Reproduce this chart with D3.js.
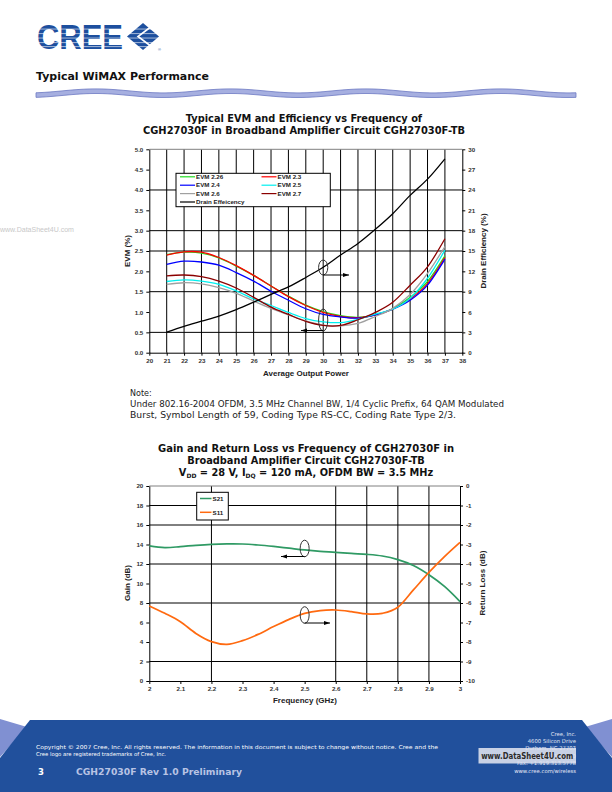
<!DOCTYPE html>
<html><head><meta charset="utf-8">
<script src="https://cdn.jsdelivr.net/npm/d3@7"></script>
<style>body{margin:0;background:#fff}svg{display:block}</style>
</head><body>
<svg id="c" width="612" height="792"></svg>
<script>
// ---------- DATA: top chart ----------
const powers = [21,22,23,24,25,26,27,28,29,30,31,32,33,34,35,36,37];
const evm226 = [2.41,2.47,2.45,2.33,2.13,1.90,1.64,1.39,1.17,1.01,0.91,0.87,0.93,1.08,1.36,1.75,2.38];
const evm23  = [2.40,2.48,2.47,2.34,2.14,1.90,1.64,1.38,1.16,0.99,0.89,0.86,0.93,1.07,1.32,1.70,2.34];
const evm24  = [2.17,2.25,2.23,2.15,1.97,1.76,1.51,1.29,1.08,0.94,0.88,0.85,0.93,1.07,1.29,1.66,2.30];
const evm25  = [1.75,1.79,1.76,1.68,1.52,1.32,1.16,0.99,0.84,0.76,0.74,0.82,0.95,1.07,1.34,1.83,2.52];
const evm26  = [1.68,1.72,1.69,1.60,1.46,1.27,1.09,0.93,0.78,0.68,0.66,0.72,0.89,1.09,1.43,1.95,2.61];
const evm27  = [1.89,1.91,1.87,1.76,1.59,1.36,1.12,0.94,0.77,0.67,0.67,0.81,0.99,1.24,1.66,2.11,2.80];
const drainEff = [3.05,3.9,4.65,5.4,6.35,7.45,8.6,9.7,11.1,12.6,14.4,16.1,18.2,20.5,23.2,25.6,28.6];
const evmTicks = [0,0.5,1,1.5,2,2.5,3,3.5,4,4.5,5];
const effTicks = [0,3,6,9,12,15,18,21,24,27,30];
const powerTicks = [20,21,22,23,24,25,26,27,28,29,30,31,32,33,34,35,36,37,38];
const evmSeriesNames = ["EVM 2.26","EVM 2.3","EVM 2.4","EVM 2.5","EVM 2.6","EVM 2.7"];

// ---------- DATA: bottom chart ----------
const freqs = [2.0,2.05,2.1,2.15,2.2,2.25,2.3,2.35,2.4,2.45,2.5,2.55,2.6,2.65,2.7,2.75,2.8,2.85,2.9,2.95,3.0];
const s21 = [13.85,13.68,13.78,13.92,14.02,14.06,14.05,13.95,13.8,13.62,13.44,13.3,13.2,13.08,12.99,12.82,12.45,11.85,10.9,9.7,8.15];
const s11 = [-6.15,-6.53,-6.96,-7.56,-7.98,-8.12,-7.93,-7.61,-7.21,-6.84,-6.53,-6.39,-6.36,-6.44,-6.56,-6.53,-6.22,-5.33,-4.43,-3.62,-2.89];
const gainTicks = [0,2,4,6,8,10,12,14,16,18,20];
const rlTicks = [0,-1,-2,-3,-4,-5,-6,-7,-8,-9,-10];
const freqTicks = [2,2.1,2.2,2.3,2.4,2.5,2.6,2.7,2.8,2.9,3];

const svg = d3.select("#c");
const SANS = "'Liberation Sans', Arial, sans-serif";
const VERD = "'DejaVu Sans', Verdana, sans-serif";

// ---------- HEADER ----------
const logo = svg.append("g");
logo.append("text").attr("x",37).attr("y",49).attr("font-family",SANS).attr("font-weight","bold")
  .attr("font-size",35).attr("fill","#1d4f9e").attr("textLength",86).attr("lengthAdjust","spacingAndGlyphs").text("CREE");
logo.append("polygon").attr("points","127,36.5 143,23 159,36.5 143,50").attr("fill","#1d4f9e");
logo.append("polyline").attr("points","152,26 138,36.5 152,47").attr("fill","none").attr("stroke","#fff").attr("stroke-width",1.6);
[28.5,33,37.5,42,46].forEach(y=>{
  logo.append("rect").attr("x",37).attr("y",y).attr("width",122).attr("height",1.1).attr("fill","#fff").attr("opacity",0.55);
});
logo.append("text").attr("x",158).attr("y",51).attr("font-size",4).attr("fill","#1d4f9e").attr("font-family",SANS).text("®");

svg.append("text").attr("x",36).attr("y",80).attr("font-family",VERD).attr("font-weight","bold")
  .attr("font-size",10.5).attr("fill","#111").attr("textLength",173).attr("lengthAdjust","spacingAndGlyphs").text("Typical WiMAX Performance");

// wavy band (decorative)
(function(){
  const xs = d3.range(36,577,2);
  const f = x => 93.2 + 2.0*Math.sin((x-62)/135*2*Math.PI + Math.PI);
  const top = xs.map(x=>[x,f(x)-2.3]);
  const bot = xs.slice().reverse().map(x=>[x,f(x)+2.3]);
  svg.append("path").attr("d", "M"+top.map(p=>p.join(",")).join("L")+"L"+bot.map(p=>p.join(",")).join("L")+"Z")
    .attr("fill","#a6afe0").attr("stroke","#6c79c3").attr("stroke-width",0.8);
})();

// left watermark
svg.append("text").attr("x",0).attr("y",232).attr("font-family",SANS).attr("font-size",7).attr("fill","#c8c8c8").text("www.DataSheet4U.com");

// ---------- TOP CHART ----------
svg.append("text").attr("x",304).attr("y",122).attr("text-anchor","middle").attr("font-family",VERD).attr("font-weight","bold")
  .attr("font-size",9.8).attr("fill","#111").text("Typical EVM and Efficiency vs Frequency of");
svg.append("text").attr("x",304).attr("y",134).attr("text-anchor","middle").attr("font-family",VERD).attr("font-weight","bold")
  .attr("font-size",9.8).attr("fill","#111").attr("textLength",322).attr("lengthAdjust","spacingAndGlyphs").text("CGH27030F in Broadband Amplifier Circuit CGH27030F-TB");

const xT = d3.scaleLinear().domain([20,38]).range([149.3,462.3]);
const yE = d3.scaleLinear().domain([0,5]).range([352.7,149.3]);
const yD = d3.scaleLinear().domain([0,30]).range([352.7,149.3]);

const gT = svg.append("g");
[0.5,1.5,2.5,3,4].forEach(v=>{
  gT.append("line").attr("x1",xT(20)).attr("x2",xT(38)).attr("y1",yE(v)).attr("y2",yE(v)).attr("stroke","#000").attr("stroke-width",1);
});
powers.forEach(p=>{
  gT.append("line").attr("x1",xT(p)).attr("x2",xT(p)).attr("y1",yE(0)).attr("y2",yE(5)).attr("stroke","#000").attr("stroke-width",1);
});
gT.append("line").attr("x1",xT(20)).attr("x2",xT(38)).attr("y1",yE(5)).attr("y2",yE(5)).attr("stroke","#808080");

function styleAxis(g){
  g.selectAll("text").attr("font-family",SANS).attr("font-weight","bold").attr("font-size",6.2).attr("fill","#333");
  g.selectAll("line").attr("stroke","#000");
  g.select(".domain").attr("stroke","#000");
}
const plain = d => String(+(+d).toFixed(2));
gT.append("g").attr("transform",`translate(${xT(20)},0)`)
  .call(d3.axisLeft(yE).tickValues(evmTicks).tickFormat(d=>(+d).toFixed(1)).tickSize(3).tickSizeOuter(0)).call(styleAxis);
gT.append("g").attr("transform",`translate(${xT(38)},0)`)
  .call(d3.axisRight(yD).tickValues(effTicks).tickFormat(plain).tickSize(3).tickSizeOuter(0)).call(styleAxis);
gT.append("g").attr("transform",`translate(0,${yE(0)})`)
  .call(d3.axisBottom(xT).tickValues(powerTicks).tickFormat(plain).tickSize(3).tickSizeOuter(0)).call(styleAxis);

const evmData = [evm226,evm23,evm24,evm25,evm26,evm27];
const evmColors = ["#22dd22","#ff0000","#0000ff","#00f0f0","#a0a0a0","#8b0000"];
const lineE = d3.line().x((d,i)=>xT(powers[i])).y(d=>yE(d)).curve(d3.curveCardinal.tension(0));
const lineD = d3.line().x((d,i)=>xT(powers[i])).y(d=>yD(d)).curve(d3.curveCardinal.tension(0));
evmData.forEach((arr,k)=>{
  gT.append("path").attr("d",lineE(arr)).attr("fill","none").attr("stroke",evmColors[k]).attr("stroke-width",1.3);
});
gT.append("path").attr("d",lineD(drainEff)).attr("fill","none").attr("stroke","#000").attr("stroke-width",1.3);

function arrow(g,x1,y1,x2,y2){
  g.append("line").attr("x1",x1).attr("y1",y1).attr("x2",x2).attr("y2",y2).attr("stroke","#000").attr("stroke-width",1);
  const dir = Math.sign(x2-x1);
  g.append("polygon").attr("points",`${x2},${y2} ${x2-dir*6},${y2-2} ${x2-dir*6},${y2+2}`).attr("fill","#000");
}
gT.append("ellipse").attr("cx",xT(30)).attr("cy",267.5).attr("rx",4.6).attr("ry",7.5).attr("fill","none").attr("stroke","#333").attr("stroke-width",1);
arrow(gT,xT(30),275,349,275);
gT.append("ellipse").attr("cx",xT(30)).attr("cy",320).attr("rx",4.6).attr("ry",11).attr("fill","none").attr("stroke","#333").attr("stroke-width",1);
arrow(gT,xT(30),330.5,301,330.5);

const lg = gT.append("g");
lg.append("rect").attr("x",176).attr("y",173.3).attr("width",154.3).attr("height",33.4).attr("fill","#fff").attr("stroke","#000").attr("stroke-width",1);
const legItems = evmSeriesNames.map((n,i)=>({name:n,color:evmColors[i]})).concat([{name:"Drain Effeicency",color:"#000"}]);
legItems.forEach((it,i)=>{
  const col = (i<6)? i%2 : 0;
  const row = (i<6)? Math.floor(i/2) : 3;
  const lx = col===0?180:261.5;
  const ly = 176.8 + row*8.4;
  lg.append("line").attr("x1",lx).attr("x2",lx+15).attr("y1",ly).attr("y2",ly).attr("stroke",it.color).attr("stroke-width",1.2);
  lg.append("text").attr("x",lx+16).attr("y",ly+2.2).attr("font-family",SANS).attr("font-weight","bold").attr("font-size",6.2).attr("fill","#222").text(it.name);
});

svg.append("text").attr("transform","translate(129.5,251) rotate(-90)").attr("text-anchor","middle").attr("font-family",SANS)
  .attr("font-weight","bold").attr("font-size",8).attr("fill","#222").text("EVM (%)");
svg.append("text").attr("transform","translate(486,251) rotate(-90)").attr("text-anchor","middle").attr("font-family",SANS)
  .attr("font-weight","bold").attr("font-size",8).attr("fill","#222").text("Drain Efficiency (%)");
svg.append("text").attr("x",306).attr("y",376).attr("text-anchor","middle").attr("font-family",SANS)
  .attr("font-weight","bold").attr("font-size",8).attr("fill","#222").text("Average Output Power");

// ---------- NOTE ----------
const noteLines = ["Note:",
  "Under 802.16-2004 OFDM, 3.5 MHz Channel BW, 1/4 Cyclic Prefix, 64 QAM Modulated",
  "Burst, Symbol Length of 59, Coding Type RS-CC, Coding Rate Type 2/3."];
const noteLens = [null,374,326];
noteLines.forEach((t,i)=>{
  const tx = svg.append("text").attr("x",130).attr("y",396+i*11).attr("font-family",VERD).attr("font-size",8).attr("fill","#222").text(t);
  if(noteLens[i]) tx.attr("textLength",noteLens[i]).attr("lengthAdjust","spacingAndGlyphs");
});

// ---------- BOTTOM CHART ----------
svg.append("text").attr("x",306).attr("y",452).attr("text-anchor","middle").attr("font-family",VERD).attr("font-weight","bold")
  .attr("font-size",9.8).attr("fill","#111").attr("textLength",296).attr("lengthAdjust","spacingAndGlyphs").text("Gain and Return Loss vs Frequency of CGH27030F in");
svg.append("text").attr("x",306).attr("y",464).attr("text-anchor","middle").attr("font-family",VERD).attr("font-weight","bold")
  .attr("font-size",9.8).attr("fill","#111").text("Broadband Amplifier Circuit CGH27030F-TB");
const t3 = svg.append("text").attr("x",306).attr("y",476).attr("text-anchor","middle").attr("font-family",VERD).attr("font-weight","bold")
  .attr("font-size",9.8).attr("fill","#111");
t3.append("tspan").text("V");
t3.append("tspan").attr("font-size",6).attr("dy",2).text("DD");
t3.append("tspan").attr("dy",-2).text(" = 28 V, I");
t3.append("tspan").attr("font-size",6).attr("dy",2).text("DQ");
t3.append("tspan").attr("dy",-2).text(" = 120 mA, OFDM BW = 3.5 MHz");

const xB = d3.scaleLinear().domain([2,3]).range([149.3,460]);
const yG = d3.scaleLinear().domain([0,20]).range([681,486]);
const yR = d3.scaleLinear().domain([-10,0]).range([681,486]);
const gB = svg.append("g");
[2,8,12,16,18].forEach(v=>{
  gB.append("line").attr("x1",xB(2)).attr("x2",xB(3)).attr("y1",yG(v)).attr("y2",yG(v)).attr("stroke","#000");
});
[2.2,2.6,2.7,2.8,2.9].forEach(f=>{
  gB.append("line").attr("x1",xB(f)).attr("x2",xB(f)).attr("y1",yG(0)).attr("y2",yG(20)).attr("stroke","#000");
});
gB.append("line").attr("x1",xB(2)).attr("x2",xB(3)).attr("y1",yG(20)).attr("y2",yG(20)).attr("stroke","#808080");
gB.append("g").attr("transform",`translate(${xB(2)},0)`)
  .call(d3.axisLeft(yG).tickValues(gainTicks).tickFormat(plain).tickSize(3).tickSizeOuter(0)).call(styleAxis);
gB.append("g").attr("transform",`translate(${xB(3)},0)`)
  .call(d3.axisRight(yR).tickValues(rlTicks).tickFormat(plain).tickSize(3).tickSizeOuter(0)).call(styleAxis);
gB.append("g").attr("transform",`translate(0,${yG(0)})`)
  .call(d3.axisBottom(xB).tickValues(freqTicks).tickFormat(plain).tickSize(3).tickSizeOuter(0)).call(styleAxis);

const lineG = d3.line().x((d,i)=>xB(freqs[i])).y(d=>yG(d)).curve(d3.curveCardinal.tension(0));
const lineR = d3.line().x((d,i)=>xB(freqs[i])).y(d=>yR(d)).curve(d3.curveCardinal.tension(0));
gB.append("path").attr("d",lineG(s21)).attr("fill","none").attr("stroke","#2f9a64").attr("stroke-width",1.7);
gB.append("path").attr("d",lineR(s11)).attr("fill","none").attr("stroke","#ff6a10").attr("stroke-width",1.7);

gB.append("ellipse").attr("cx",xB(2.5)).attr("cy",548.5).attr("rx",4.5).attr("ry",8.3).attr("fill","none").attr("stroke","#333");
arrow(gB,xB(2.5),556.5,281,556.5);
gB.append("ellipse").attr("cx",xB(2.5)).attr("cy",615).attr("rx",4.5).attr("ry",8.3).attr("fill","none").attr("stroke","#333");
arrow(gB,xB(2.5),623,330,623);

const lb = gB.append("g");
lb.append("rect").attr("x",196.7).attr("y",492.3).attr("width",31.6).attr("height",27.7).attr("fill","#fff").attr("stroke","#000");
[{n:"S21",c:"#2f9a64",y:498.5},{n:"S11",c:"#ff6a10",y:512.3}].forEach(it=>{
  lb.append("line").attr("x1",200).attr("x2",211.5).attr("y1",it.y).attr("y2",it.y).attr("stroke",it.c).attr("stroke-width",1.5);
  lb.append("text").attr("x",212.5).attr("y",it.y+2.2).attr("font-family",SANS).attr("font-weight","bold").attr("font-size",6.2).attr("fill","#222").text(it.n);
});

svg.append("text").attr("transform","translate(130,583) rotate(-90)").attr("text-anchor","middle").attr("font-family",SANS)
  .attr("font-weight","bold").attr("font-size",8).attr("fill","#222").text("Gain (dB)");
svg.append("text").attr("transform","translate(485,583) rotate(-90)").attr("text-anchor","middle").attr("font-family",SANS)
  .attr("font-weight","bold").attr("font-size",8).attr("fill","#222").text("Return Loss (dB)");
svg.append("text").attr("x",305).attr("y",703).attr("text-anchor","middle").attr("font-family",SANS)
  .attr("font-weight","bold").attr("font-size",8).attr("fill","#222").text("Frequency (GHz)");

// ---------- FOOTER ----------
svg.append("polygon").attr("points","0,719 27,727 0,757").attr("fill","#8090d2");
svg.append("polygon").attr("points","612,719 585,727 612,757").attr("fill","#8090d2");
svg.append("polygon").attr("points","0,758 30,720 582,720 612,758 612,792 0,792").attr("fill","#21509c");
svg.append("text").attr("x",36).attr("y",748.5).attr("font-family",VERD).attr("font-size",5.3).attr("fill","#fff")
  .attr("textLength",402).attr("lengthAdjust","spacingAndGlyphs")
  .text("Copyright © 2007 Cree, Inc. All rights reserved. The information in this document is subject to change without notice. Cree and the");
svg.append("text").attr("x",36).attr("y",756).attr("font-family",VERD).attr("font-size",5.3).attr("fill","#fff")
  .text("Cree logo are registered trademarks of Cree, Inc.");
svg.append("text").attr("x",38).attr("y",775).attr("font-family",VERD).attr("font-weight","bold").attr("font-size",8.5).attr("fill","#fff").text("3");
svg.append("text").attr("x",76).attr("y",775).attr("font-family",VERD).attr("font-weight","bold").attr("font-size",8.5).attr("fill","#b8c3e4")
  .attr("textLength",166).attr("lengthAdjust","spacingAndGlyphs").text("CGH27030F Rev 1.0 Preliminary");
const addr = ["Cree, Inc.","4600 Silicon Drive","Durham, NC 27703","USA Tel: +1.919.313.5300","Fax: +1.919.313.5778","www.cree.com/wireless"];
addr.forEach((t,i)=>{
  svg.append("text").attr("x",576).attr("y",735.5+i*7.4).attr("text-anchor","end").attr("font-family",VERD).attr("font-size",5.3).attr("fill","#e0e6f5").text(t);
});
svg.append("rect").attr("x",478.5).attr("y",748).attr("width",97.5).attr("height",15.5).attr("fill","#dfe3ef").attr("opacity",0.88);
svg.append("text").attr("x",527.2).attr("y",758.6).attr("text-anchor","middle").attr("font-family",VERD).attr("font-weight","bold")
  .attr("font-size",8).attr("fill","#2a2a2a").attr("textLength",92).attr("lengthAdjust","spacingAndGlyphs").text("www.DataSheet4U.com");
</script>
</body></html>
